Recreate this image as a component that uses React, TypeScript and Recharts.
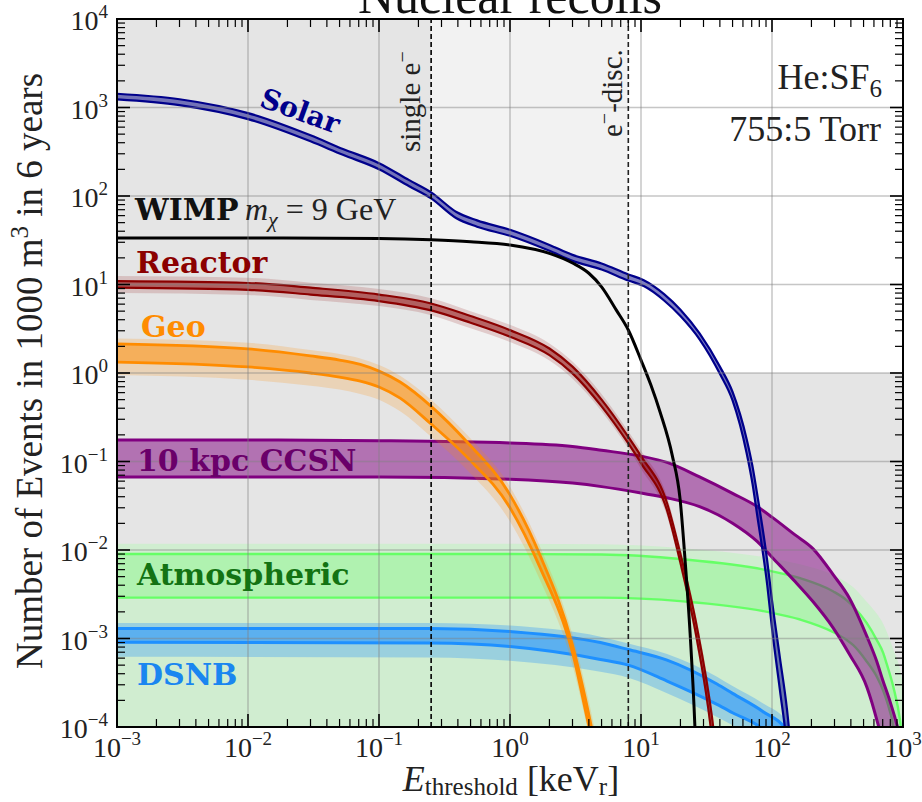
import React from 'react'
import { ComposedChart, Area, Line, XAxis, YAxis, ReferenceArea, ReferenceLine } from 'recharts'

// energies in keVr, events in 1000 m^3 over 6 years
const solarE = [0.001, 0.003, 0.01, 0.03, 0.053, 0.1, 0.17, 0.25, 0.39, 0.56, 1, 2, 3, 5, 8, 10.5, 15, 20, 28, 40, 50, 64, 71, 77, 92, 100, 115, 130, 145]
const solarHi = [1430, 1240, 865, 485, 340, 235, 151, 110, 66, 53, 41.5, 28, 21.6, 17.3, 13, 11.2, 7.8, 5.2, 2.8, 1.18, 0.61, 0.18, 0.088, 0.043, 7.5e-3, 2.7e-3, 6e-4, 1.6e-4, 3e-5]
const solarLo = [1235, 1065, 740, 415, 292, 201, 129, 94, 56, 45, 35.5, 24, 18.5, 14.8, 11.1, 9.6, 6.6, 4.4, 2.4, 0.98, 0.49, 0.125, 0.056, 0.025, 4e-3, 1.3e-3, 2.6e-4, 6e-5, 7e-6]

const reactorE = [0.001, 0.01, 0.03, 0.1, 0.25, 0.5, 1, 2, 3, 5, 8, 10, 15.8, 19.9, 26.7, 34.8, 38]
const reactorHi = [10.9, 10.4, 9.2, 7.7, 6.1, 4.4, 3.05, 1.89, 1.18, 0.5, 0.19, 0.115, 0.034, 9.3e-3, 1.35e-3, 1.3e-4, 4.5e-5]
const reactorLo = [9.2, 8.7, 7.7, 6.5, 5.1, 3.7, 2.57, 1.59, 0.99, 0.42, 0.16, 0.096, 0.028, 7.4e-3, 9.8e-4, 7.5e-5, 2e-5]
const reactorHaloHi = [12.5, 11.9, 10.5, 8.9, 7.0, 5.0, 3.5, 2.16, 1.35, 0.58, 0.22, 0.133, 0.04, 0.0108, 1.6e-3, 1.6e-4, 5.5e-5]
const reactorHaloLo = [8.0, 7.6, 6.7, 5.7, 4.5, 3.2, 2.24, 1.38, 0.86, 0.37, 0.14, 0.083, 0.024, 6.4e-3, 8.2e-4, 6e-5, 1.5e-5]

const wimpE = [0.001, 0.01, 0.1, 0.25, 0.5, 1, 2, 3, 4, 5, 6.5, 8, 10, 11.9, 14, 17.3, 19.9, 21.7, 23.7, 25.8, 27]
const wimpN = [33.5, 33.5, 33, 32, 30.5, 28, 22.5, 17.5, 13.4, 9.4, 5.1, 3.06, 1.4, 0.73, 0.36, 0.118, 0.037, 7.7e-3, 1.15e-3, 1e-4, 1.5e-5]

const geoE = [0.001, 0.01, 0.03, 0.05, 0.072, 0.1, 0.145, 0.25, 0.47, 1, 1.69, 3, 4.08, 4.7]
const geoHi = [2.13, 1.87, 1.56, 1.4, 1.25, 1.05, 0.79, 0.42, 0.166, 0.042, 8.8e-3, 8.4e-4, 1.2e-4, 4.3e-5]
const geoLo = [1.33, 1.17, 1.0, 0.9, 0.81, 0.695, 0.52, 0.265, 0.112, 0.03, 6.4e-3, 6.9e-4, 9e-5, 3.7e-5]
const geoOuterHi = [2.45, 2.2, 1.82, 1.64, 1.46, 1.23, 0.93, 0.5, 0.2, 0.052, 0.011, 1.1e-3, 1.7e-4, 6e-5]
const geoOuterLo = [0.95, 0.84, 0.72, 0.65, 0.58, 0.5, 0.37, 0.19, 0.08, 0.021, 4.6e-3, 5e-4, 7e-5, 2.5e-5]

const ccsnE = [0.001, 0.01, 0.1, 1, 3, 5, 10, 16, 28, 50, 77, 100, 150, 206, 292, 393, 531, 631, 700, 800, 900, 960]
const ccsnHi = [0.175, 0.175, 0.172, 0.162, 0.148, 0.134, 0.115, 0.097, 0.067, 0.0437, 0.031, 0.0235, 0.0148, 0.0103, 5.3e-3, 2.8e-3, 1.05e-3, 5.5e-4, 3.4e-4, 1.9e-4, 1.05e-4, 7e-5]
const ccsnLo = [0.067, 0.067, 0.067, 0.063, 0.057, 0.052, 0.044, 0.0387, 0.0309, 0.0201, 0.0125, 8.3e-3, 4.4e-3, 2.6e-3, 1.33e-3, 6.5e-4, 2.8e-4, 1.2e-4, 6.4e-5, 1e-5, 1e-6, 1e-6]

const atmE = [0.001, 1, 5, 21, 92, 164, 294, 372, 417, 528, 631, 708, 750, 843, 948, 1000]
const atmHi = [9.0e-3, 9.0e-3, 8.9e-3, 7.85e-3, 5.9e-3, 4.8e-3, 3.4e-3, 2.7e-3, 2.3e-3, 1.5e-3, 9.6e-4, 6.8e-4, 5.2e-4, 2.85e-4, 1.2e-4, 6e-5]
const atmLo = [2.9e-3, 2.9e-3, 2.9e-3, 2.63e-3, 2.0e-3, 1.64e-3, 1.18e-3, 9.6e-4, 8.4e-4, 5.5e-4, 3.7e-4, 2.55e-4, 2.0e-4, 1e-4, 2e-5, 1e-6]
const atmOuterHi = [1.18e-2, 1.18e-2, 1.16e-2, 1.05e-2, 8.2e-3, 6.9e-3, 5.2e-3, 4.3e-3, 3.8e-3, 2.6e-3, 1.9e-3, 1.45e-3, 1.2e-3, 7.5e-4, 4.5e-4, 3e-4]
const atmFloor = 1e-6

const dsnbE = [0.001, 0.25, 1, 4.9, 8, 15.8, 38, 50, 85, 130, 150]
const dsnbHi = [1.3e-3, 1.3e-3, 1.2e-3, 9e-4, 7.5e-4, 5.7e-4, 3.06e-4, 2.4e-4, 1.5e-4, 9e-5, 6e-5]
const dsnbLo = [9.1e-4, 8.9e-4, 8.1e-4, 5.8e-4, 5.0e-4, 3.3e-4, 1.8e-4, 1.45e-4, 9.5e-5, 5e-5, 3e-5]
const dsnbOuterHi = [1.5e-3, 1.5e-3, 1.4e-3, 1.05e-3, 8.8e-4, 6.7e-4, 3.7e-4, 2.9e-4, 1.85e-4, 1.15e-4, 8e-5]
const dsnbOuterLo = [6.2e-4, 6.1e-4, 5.6e-4, 4.2e-4, 3.6e-4, 2.4e-4, 1.3e-4, 1.05e-4, 6.8e-5, 3.5e-5, 2e-5]

const singleElectron = 0.25
const electronDisc = 8

const xDecades = [1e-3, 1e-2, 1e-1, 1, 10, 100, 1000]
const yDecades = [1e-4, 1e-3, 1e-2, 1e-1, 1, 10, 100, 1000, 1e4]
const minorSteps = [2, 3, 4, 5, 6, 7, 8, 9]

const withMinor = (dec: number[]) => {
  const out: number[] = []
  dec.forEach((d, i) => {
    out.push(d)
    if (i < dec.length - 1) minorSteps.forEach((m) => out.push(d * m))
  })
  return out
}
const xTicks = withMinor(xDecades)
const yTicks = withMinor(yDecades)

const band = (xs: number[], lo: number[] | number, hi: number[]) =>
  xs.map((x, i) => ({ x, band: [Array.isArray(lo) ? lo[i] : lo, hi[i]] }))
const line = (xs: number[], ys: number[]) => xs.map((x, i) => ({ x, y: ys[i] }))

const W = 922
const H = 802
const PL = 117
const PR = 903
const PT = 19
const PB = 727

const SERIF = "'Liberation Serif', 'Times New Roman', serif"
const BOLD = "'DejaVu Serif', serif"

const isMajor = (v: number) => {
  const l = Math.log10(v)
  return Math.abs(l - Math.round(l)) < 1e-6
}
const expText = (v: number) => {
  const e = Math.round(Math.log10(v))
  return e < 0 ? '\u2212' + Math.abs(e) : String(e)
}

const XTick = (props: any) => {
  const { x, payload } = props
  const v = payload.value
  const major = isMajor(v)
  const len = major ? 13 : 8
  const sw = major ? 1.6 : 1.2
  return (
    <g>
      <line x1={x} x2={x} y1={PB} y2={PB - len} stroke="#000" strokeWidth={sw} />
      <line x1={x} x2={x} y1={PT} y2={PT + len} stroke="#000" strokeWidth={sw} />
      {major && (
        <text x={x} y={757} textAnchor="middle" fontFamily={SERIF} fontSize={28} fill="#222">
          10<tspan dy={-12} fontSize={19}>{expText(v)}</tspan>
        </text>
      )}
    </g>
  )
}

const YTick = (props: any) => {
  const { y, payload } = props
  const v = payload.value
  const major = isMajor(v)
  const len = major ? 13 : 8
  const sw = major ? 1.6 : 1.2
  return (
    <g>
      <line x1={PL} x2={PL + len} y1={y} y2={y} stroke="#000" strokeWidth={sw} />
      <line x1={PR} x2={PR - len} y1={y} y2={y} stroke="#000" strokeWidth={sw} />
      {major && (
        <text x={108} y={y + 11} textAnchor="end" fontFamily={SERIF} fontSize={28} fill="#222">
          10<tspan dy={-12} fontSize={19}>{expText(v)}</tspan>
        </text>
      )}
    </g>
  )
}

const areaCommon = { type: 'monotone' as const, dataKey: 'band', isAnimationActive: false, dot: false, activeDot: false }

export default function App() {
  return (
    <div style={{ position: 'absolute', left: 0, top: 0, width: W, height: H, background: '#fff' }}>
      <ComposedChart width={W} height={H} margin={{ top: PT, right: W - PR, bottom: 15, left: 17 }}>
        <XAxis
          dataKey="x"
          type="number"
          scale="log"
          domain={[1e-3, 1e3]}
          allowDataOverflow
          ticks={xTicks}
          interval={0}
          height={60}
          axisLine={false}
          tickLine={false}
          tick={(p: any) => <XTick {...p} />}
        />
        <YAxis
          type="number"
          scale="log"
          domain={[1e-4, 1e4]}
          allowDataOverflow
          ticks={yTicks}
          interval={0}
          width={100}
          axisLine={false}
          tickLine={false}
          tick={(p: any) => <YTick {...p} />}
        />

        <ReferenceArea x1={1e-3} x2={singleElectron} y1={1} y2={1e4} fill="#e5e5e5" fillOpacity={1} stroke="none" zIndex={-200} />
        <ReferenceArea x1={singleElectron} x2={electronDisc} y1={1} y2={1e4} fill="#f2f2f2" fillOpacity={1} stroke="none" zIndex={-200} />
        <ReferenceArea x1={1e-3} x2={1e3} y1={1e-4} y2={1} fill="#e5e5e5" fillOpacity={1} stroke="none" zIndex={-200} />

        <Area {...areaCommon} data={band(atmE, atmFloor, atmOuterHi)} fill="#a0ffa0" fillOpacity={0.3} stroke="none" />
        <Area {...areaCommon} data={band(atmE, atmLo, atmHi)} fill="#66ff66" fillOpacity={0.3} stroke="#66ff66" strokeWidth={2.4} />

        <Area {...areaCommon} data={band(dsnbE, dsnbOuterLo, dsnbOuterHi)} fill="#1e90ff" fillOpacity={0.3} stroke="none" />
        <Area {...areaCommon} data={band(dsnbE, dsnbLo, dsnbHi)} fill="#1e90ff" fillOpacity={0.5} stroke="#1e90ff" strokeWidth={3} />

        <Area {...areaCommon} data={band(ccsnE, ccsnLo, ccsnHi)} fill="#800080" fillOpacity={0.5} stroke="#800080" strokeWidth={3} />

        <Area {...areaCommon} data={band(geoE, geoOuterLo, geoOuterHi)} fill="#ff8c00" fillOpacity={0.2} stroke="none" />
        <Area {...areaCommon} data={band(geoE, geoLo, geoHi)} fill="#ff8c00" fillOpacity={0.5} stroke="#ff8c00" strokeWidth={2.8} />

        <Area {...areaCommon} data={band(reactorE, reactorHaloLo, reactorHaloHi)} fill="#8b0000" fillOpacity={0.16} stroke="none" />
        <Area {...areaCommon} data={band(reactorE, reactorLo, reactorHi)} fill="#8b0000" fillOpacity={0.5} stroke="#8b0000" strokeWidth={2.2} />

        <Line type="monotone" data={line(wimpE, wimpN)} dataKey="y" stroke="#000" strokeWidth={3} dot={false} activeDot={false} isAnimationActive={false} />

        <Area {...areaCommon} data={band(solarE, solarLo, solarHi)} fill="#00008b" fillOpacity={0.5} stroke="#00008b" strokeWidth={2.2} />

        {xDecades.slice(1, -1).map((v) => (
          <ReferenceLine key={'gx' + v} x={v} stroke="#808080" strokeOpacity={0.45} strokeWidth={1.5} zIndex={450} />
        ))}
        {yDecades.slice(1, -1).map((v) => (
          <ReferenceLine key={'gy' + v} y={v} stroke="#808080" strokeOpacity={0.45} strokeWidth={1.5} zIndex={450} />
        ))}
        <ReferenceLine x={singleElectron} stroke="#000" strokeWidth={1.6} strokeDasharray="5 3" zIndex={460} />
        <ReferenceLine x={electronDisc} stroke="#222" strokeWidth={1.6} strokeDasharray="5 3" zIndex={460} />
      </ComposedChart>

      <svg width={W} height={H} style={{ position: 'absolute', left: 0, top: 0, pointerEvents: 'none' }}>
        <rect x={PL} y={PT} width={PR - PL} height={PB - PT} fill="none" stroke="#000" strokeWidth={2} />
        <text x={510} y={13} textAnchor="middle" fontFamily={SERIF} fontSize={50} fill="#111">Nuclear recoils</text>

        <text x={42} y={371} transform="rotate(-90, 42, 371)" textAnchor="middle" fontFamily={SERIF} fontSize={37} fill="#222">
          Number of Events in 1000 m<tspan dy={-14} fontSize={25}>3</tspan><tspan dy={14}> in 6 years</tspan>
        </text>
        <text x={511} y={791} textAnchor="middle" fontFamily={SERIF} fontSize={36} fill="#222">
          <tspan fontStyle="italic">E</tspan><tspan fontSize={25} dy={4}>threshold</tspan><tspan dy={-4}> [keV</tspan><tspan fontSize={25} dy={4}>r</tspan><tspan dy={-4}>]</tspan>
        </text>

        <text x={882} y={89} textAnchor="end" fontFamily={SERIF} fontSize={36} fill="#222">
          He:SF<tspan fontSize={25} dy={8}>6</tspan>
        </text>
        <text x={881} y={141} textAnchor="end" fontFamily={SERIF} fontSize={36} fill="#222">755:5 Torr</text>

        <text x={420} y={152} transform="rotate(-90, 420, 152)" fontFamily={SERIF} fontSize={29} fill="#222">
          single e<tspan dy={-11} fontSize={20}>{'\u2212'}</tspan>
        </text>
        <text x={622} y={137} transform="rotate(-90, 622, 137)" fontFamily={SERIF} fontSize={29} fill="#222">
          e<tspan dy={-11} fontSize={20}>{'\u2212'}</tspan><tspan dy={11}>-disc.</tspan>
        </text>

        <text x={297} y={120} transform="rotate(20, 297, 120)" textAnchor="middle" fontFamily={BOLD} fontWeight="bold" fontSize={28} fill="#00008b">Solar</text>
        <text x={135} y={220} fontFamily={BOLD} fontWeight="bold" fontSize={30} fill="#111">WIMP</text>
        <text x={245} y={220} fontFamily={SERIF} fontSize={32} fill="#222">
          <tspan fontStyle="italic">m</tspan><tspan fontStyle="italic" fontSize={22} dy={7}>{'\u03c7'}</tspan><tspan dy={-7}> = 9 GeV</tspan>
        </text>
        <text x={136} y={273} fontFamily={BOLD} fontWeight="bold" fontSize={30} fill="#8b0000">Reactor</text>
        <text x={141} y={337} fontFamily={BOLD} fontWeight="bold" fontSize={30} fill="#ff8c00">Geo</text>
        <text x={137} y={471} fontFamily={BOLD} fontWeight="bold" fontSize={30} fill="#6a006a">10 kpc CCSN</text>
        <text x={137} y={585} fontFamily={BOLD} fontWeight="bold" fontSize={30} fill="#137313">Atmospheric</text>
        <text x={137} y={685} fontFamily={BOLD} fontWeight="bold" fontSize={30} fill="#1a86f0">DSNB</text>
      </svg>
    </div>
  )
}
